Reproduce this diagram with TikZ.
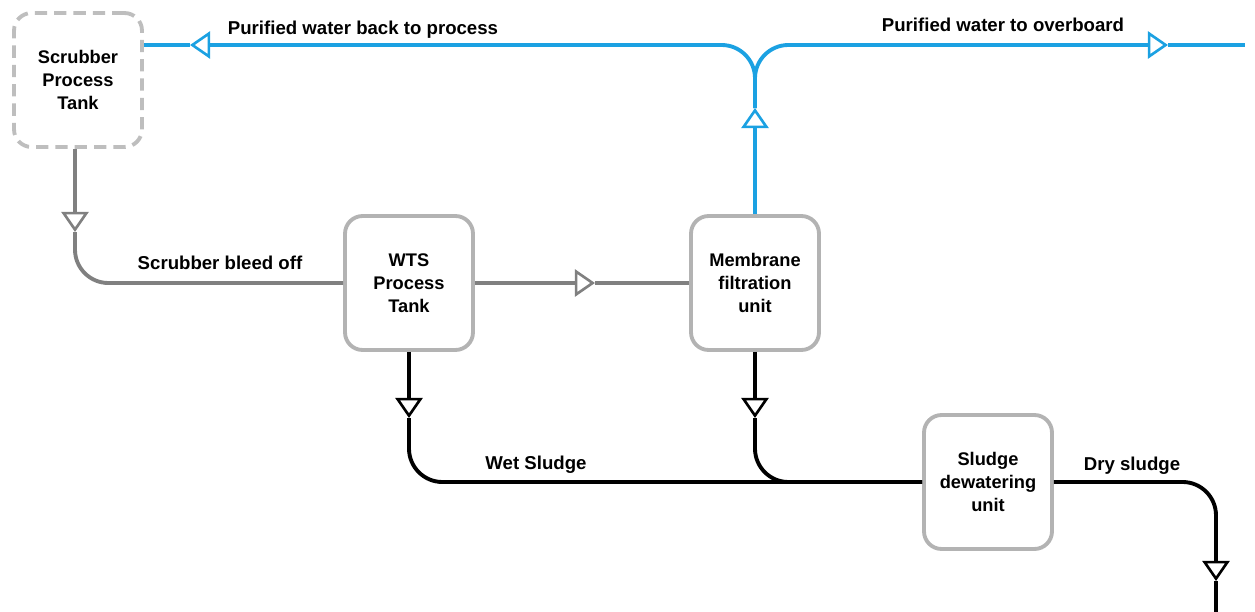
\documentclass[tikz,border=0pt]{standalone}
\usepackage{fontspec}
\setmainfont{Liberation Sans}
\usetikzlibrary{arrows.meta, calc}
\definecolor{FlowBlue}{HTML}{1BA1E2}
\definecolor{BleedGray}{HTML}{808080}
\definecolor{TankGray}{HTML}{B3B3B3}

\begin{document}
\begin{tikzpicture}[
  x=0.02cm, y=-0.02cm,
  tank/.style={rectangle, rounded corners=10pt, draw=TankGray, fill=white,
    line width=2.2pt, minimum width=2.56cm, minimum height=2.68cm,
    align=center, font=\fontsize{10.4}{13}\selectfont\bfseries, inner sep=2pt},
  dashtank/.style={tank, draw=TankGray!85, dash pattern=on 7pt off 4pt},
  flow/.style={line width=2.2pt, rounded corners=19pt},
  blueflow/.style={flow, draw=FlowBlue},
  grayflow/.style={flow, draw=BleedGray},
  blackflow/.style={flow, draw=black},
  flowtip/.style={-{Triangle[fill=white, length=11.5pt, width=15.5pt, line width=1.5pt]}},
  lbl/.style={font=\fontsize{10.6}{12}\selectfont\bfseries, inner sep=1pt}
]
  \useasboundingbox (0,0) rectangle (1255,612);

  % tanks and units
  \node[dashtank] (spt) at (78,80)   {Scrubber\\Process\\Tank};
  \node[tank]     (wts) at (409,283) {WTS\\Process\\Tank};
  \node[tank]     (mfu) at (755,283) {Membrane\\filtration\\unit};
  \node[tank]     (sdu) at (988,482) {Sludge\\dewatering\\unit};

  % arrow positions and free ends
  \coordinate (uptip)   at (755,108);
  \coordinate (backtip) at (190,45);
  \coordinate (ovbtip)  at (1168,45);
  \coordinate (ovb)     at (1245,45);
  \coordinate (bleedtip) at (75,232);
  \coordinate (feedtip) at (595,283);
  \coordinate (wettip)  at (409,418);
  \coordinate (restip)  at (755,418);
  \coordinate (drytip)  at (1216,581);
  \coordinate (dry)     at (1216,612);

  % purified water
  \draw[blueflow, flowtip] (mfu.north) -- (uptip);
  \draw[blueflow, flowtip] (uptip) |- (backtip);
  \draw[blueflow] (backtip) -- (spt.east |- backtip);
  \draw[blueflow, flowtip] (uptip) |- (ovbtip);
  \draw[blueflow] (ovbtip) -- (ovb);

  % bleed off and feed
  \draw[grayflow, flowtip] (spt.south -| bleedtip) -- (bleedtip);
  \draw[grayflow] (bleedtip) |- (wts.west);
  \draw[grayflow, flowtip] (wts.east) -- (feedtip);
  \draw[grayflow] (feedtip) -- (mfu.west);

  % sludge
  \draw[blackflow, flowtip] (wts.south) -- (wettip);
  \draw[blackflow] (wettip) |- (sdu.west);
  \draw[blackflow, flowtip] (mfu.south) -- (restip);
  \draw[blackflow] (restip) |- (sdu.west);
  \draw[blackflow, flowtip] (sdu.east) -| (drytip);
  \draw[blackflow] (drytip) -- (dry);

  % labels
  \node[lbl] (backlbl)  at (363,30)   {Purified water back to process};
  \node[lbl] (ovblbl)   at (1003,25)  {Purified water to overboard};
  \node[lbl] (bleedlbl) at (220,263)  {Scrubber bleed off};
  \node[lbl] (wetlbl)   at (536,465)  {Wet Sludge};
  \node[lbl] (drylbl)   at (1132,466) {Dry sludge};
\end{tikzpicture}
\end{document}
